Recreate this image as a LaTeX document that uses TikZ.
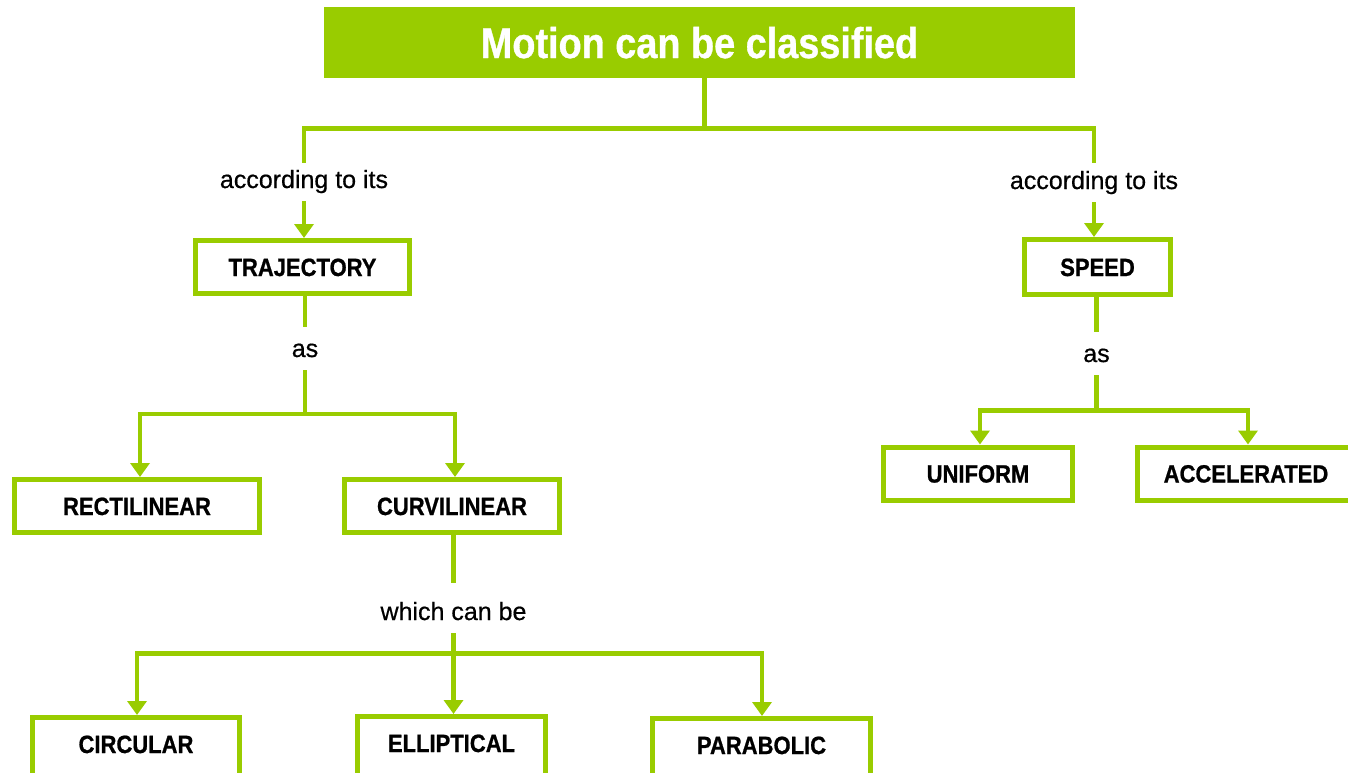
\documentclass[tikz,border=0pt]{standalone}
\usepackage{fontspec}
\setmainfont{Liberation Sans}
\newfontfamily\nb[FakeStretch=0.88,FakeBold=0.8]{Liberation Sans}
\newfontfamily\lb[FakeBold=0.6]{Liberation Sans}
\usetikzlibrary{arrows.meta}
\definecolor{lime}{RGB}{153,204,0}
\begin{document}
\begin{tikzpicture}[x=1pt,y=-1pt,
  conn/.style={draw=lime,line width=4.5pt,line join=miter},
  arr/.style={conn,-{Triangle[width=19pt,length=14pt]}},
  box/.style={draw=lime,line width=5pt,fill=white,inner sep=0pt,
    minimum height=53pt,text height=18pt,text depth=0pt,
    font=\nb\bfseries\fontsize{25}{30}\selectfont},
  lowbox/.style={box,minimum height=65pt,text depth=12pt},
  lab/.style={inner sep=0pt,text depth=13pt,anchor=base,
    font=\lb\fontsize{25}{30}\selectfont}]
\useasboundingbox (0,0) rectangle (1348,772);
\clip (0,0) rectangle (1348,772);
% title
\node[fill=lime,minimum width=751pt,minimum height=71pt,inner sep=0pt,
  text=white,text height=31pt,text depth=0pt,
  font=\nb\bfseries\fontsize{43}{50}\selectfont] (title) at (699.5,42.5) {Motion can be classified};
% boxes
\node[box,minimum width=214pt] (traj) at (302.5,267) {TRAJECTORY};
\node[box,minimum width=146pt,minimum height=55pt] (speed) at (1097.5,267) {SPEED};
\node[box,minimum width=245pt] (rect) at (137,506) {RECTILINEAR};
\node[box,minimum width=215pt] (curv) at (452,506) {CURVILINEAR};
\node[box,minimum width=189pt] (unif) at (978,473.5) {UNIFORM};
\node[box,minimum width=217pt] (acc) at (1246,473.5) {ACCELERATED};
\node[lowbox,minimum width=207pt] (circ) at (136,750) {CIRCULAR};
\node[lowbox,minimum width=188pt] (ell) at (451.5,749) {ELLIPTICAL};
\node[lowbox,minimum width=218pt] (para) at (761.5,751) {PARABOLIC};
% labels
\node[lab,text height=25pt] (acc1) at (304,188) {according to its};
\node[lab,text height=26pt] (acc2) at (1094,189) {according to its};
\node[lab,text height=30pt] (as1) at (305,357) {as};
\node[lab,text height=30pt] (as2) at (1096.5,362) {as};
\node[lab,text height=37pt] (which) at (453.5,620) {which can be};
% junctions
\coordinate (b1) at (704.5,128.5);
\coordinate (b2) at (305,414);
\coordinate (b3) at (1096.5,410.5);
\coordinate (b4) at (453.5,653.5);
\coordinate (a-rect) at (140,0);
\coordinate (a-curv) at (455,0);
\coordinate (a-unif) at (980,0);
\coordinate (a-acc) at (1248,0);
\coordinate (a-circ) at (137,0);
\coordinate (a-para) at (762,0);
% connectors
\draw[conn] (title.south -| b1) -- (b1);
\draw[conn] (b1) -| (acc1.north);
\draw[conn] (b1) -| (acc2.north);
\draw[arr] (acc1.south) -- (traj.north -| acc1.south);
\draw[arr] (acc2.south) -- (speed.north -| acc2.south);
\draw[conn] (traj.south -| as1) -- (as1.north);
\draw[conn] (as1.south) -- (b2);
\draw[arr] (b2) -| (rect.north -| a-rect);
\draw[arr] (b2) -| (curv.north -| a-curv);
\draw[conn] (speed.south -| as2) -- (as2.north);
\draw[conn] (as2.south) -- (b3);
\draw[arr] (b3) -| (unif.north -| a-unif);
\draw[arr] (b3) -| (acc.north -| a-acc);
\draw[conn] (curv.south -| which) -- (which.north);
\draw[arr] (which.south) -- (ell.north -| which.south);
\draw[arr] (b4) -| (circ.north -| a-circ);
\draw[arr] (b4) -| (para.north -| a-para);
\end{tikzpicture}
\end{document}
